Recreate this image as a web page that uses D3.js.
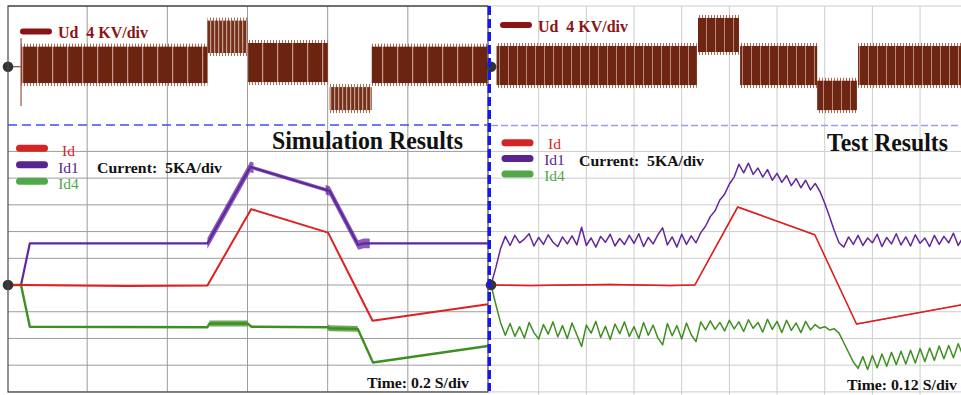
<!DOCTYPE html>
<html>
<head>
<meta charset="utf-8">
<script src="https://cdn.jsdelivr.net/npm/d3@7"></script>
<style>
  body { margin: 0; background: #fff; }
  svg { display: block; }
  text { font-family: "Liberation Serif", "Times New Roman", serif; white-space: pre; }
</style>
</head>
<body>
<div id="chart"></div>
<script>

// Ud switching envelope: [t0, t1, upper, lower]
const udSimBands = [
    [0.035, 0.5, 3.0, -2.45],
    [0.5, 0.6, 6.9, 2.05],
    [0.6, 0.8, 3.55, -2.3],
    [0.805, 0.91, -3.05, -6.5],
    [0.91, 1.2, 3.0, -2.45]
];
const udTestBands = [
    [0.014, 0.518, 3.1, -2.75],
    [0.521, 0.624, 7.3, 2.2],
    [0.627, 0.821, 3.1, -2.75],
    [0.821, 0.921, -2.1, -6.5],
    [0.924, 1.2, 3.1, -2.75]
];
const udSimSpike = [0.035, 4.3, -5.9];

// simulation currents, breakpoints [t, kA]
const idSim = [[0, 0], [0.035, 0], [0.3, -0.19], [0.5, -0.1], [0.609, 14.2], [0.801, 9.8], [0.912, -6.7], [1.2, -3.6]];
const id1Sim = [[0, 0], [0.035, 0], [0.057, 7.8], [0.5, 7.8], [0.607, 22.1], [0.805, 17.6], [0.876, 7.5], [0.89, 7.8], [1.2, 7.8]];
const id4Sim = [[0, 0], [0.035, 0], [0.057, -7.8], [0.5, -7.9], [0.505, -7.2], [0.6, -7.2], [0.61, -7.8], [0.8, -7.9],
    [0.805, -8.1], [0.875, -8.2], [0.913, -14.5], [1.2, -11.4]];
// ripple zones on the simulation traces: [t0, t1, half width kA]
const id1SimRipple = [[0.5, 0.615, 1.0], [0.615, 0.8, 0.35], [0.795, 0.905, 0.9]];
const id4SimRipple = [[0.505, 0.6, 0.55], [0.8, 0.875, 0.55]];

// test currents
const idTest = [[0, 0], [0.1, -0.1], [0.3, 0.1], [0.45, -0.1], [0.513, 0], [0.621, 14.6], [0.815, 9.4], [0.92, -7.3], [1.2, -3.5]];
const idTestRipple = [[0, 1.2, 0.12]];
const testStep = 0.012;
const id1Test = [0, 3.2, 6.8, 9.1, 7.4, 9.3, 7.9, 8.6, 9.6, 7.3, 8.9, 7.6, 9.4, 8.0, 7.2, 9.0, 7.7, 9.2, 7.5, 10.8,
    7.4, 8.8, 7.1, 9.1, 8.0, 9.5, 7.3, 8.7, 7.6, 9.3, 7.8, 9.6, 7.2, 8.9, 7.7, 9.4, 10.7, 7.5, 9.0, 7.1,
    9.5, 7.6, 9.2, 7.9, 9.8, 11.0, 12.8, 13.9, 15.9, 17.0, 18.9, 20.2, 22.6, 21.0, 22.8, 20.7, 21.9, 20.2, 21.6, 19.6,
    20.9, 19.2, 20.5, 18.6, 19.9, 18.2, 19.6, 17.8, 19.0, 17.5, 15.3, 12.8, 10.2, 7.9, 7.1, 9.0, 7.6, 9.3, 7.4, 8.8,
    7.9, 9.5, 7.2, 8.9, 7.7, 9.6, 7.5, 9.0, 7.3, 9.4, 7.8, 8.8, 7.2, 9.3, 7.6, 9.1, 7.9, 9.7, 7.4, 8.9];
const id4Test = [0, -3.6, -7.0, -9.4, -7.2, -9.6, -7.8, -9.9, -7.0, -8.9, -10.1, -7.4, -9.2, -6.9, -9.7, -7.6, -10.0, -7.1, -9.3, -11.5,
    -7.5, -9.0, -6.8, -9.8, -7.7, -10.2, -7.3, -9.1, -6.9, -9.6, -7.8, -10.0, -7.0, -9.4, -7.5, -9.9, -11.2, -7.2, -9.5, -7.6,
    -10.1, -7.1, -9.3, -10.6, -6.9, -8.4, -6.7, -8.3, -7.0, -8.6, -6.6, -8.2, -6.9, -8.7, -6.5, -8.1, -7.0, -8.8, -6.4, -8.3,
    -6.8, -8.9, -6.6, -8.5, -7.1, -8.9, -6.8, -8.4, -7.4, -8.1, -7.8, -8.4, -8.2, -9.0, -10.8, -12.6, -14.4, -15.6, -13.4, -15.8,
    -13.2, -15.5, -12.9, -15.2, -12.6, -14.9, -12.4, -14.8, -12.2, -14.6, -11.9, -14.3, -11.8, -14.1, -11.4, -13.8, -11.3, -13.6, -11.0, -13.2];

const gridTimesSim = [0.2, 0.4, 0.6, 0.8, 1.0];
const gridTimesTest = [0.12, 0.24, 0.36, 0.48, 0.6, 0.72, 0.84, 0.96, 1.08];
const currentDivs = [-15, -10, -5, 0, 5, 10, 15, 20, 25];

const W = 961, H = 395;
const colors = { ud: "#6a2410", udKey: "#8b1414", id: "#de2020", id1: "#62279e", id4: "#3f8f22",
    idKey: "#d42424", id1Key: "#58248f", id4Key: "#52a74a" };

const svg = d3.select("#chart").append("svg").attr("width", W).attr("height", H);
const defs = svg.append("defs");

function stripePattern(id, w, lineX, lineW, dark, light) {
    const p = defs.append("pattern").attr("id", id).attr("patternUnits", "userSpaceOnUse")
        .attr("width", w).attr("height", 400);
    p.append("rect").attr("width", w).attr("height", 400).attr("fill", dark);
    p.append("rect").attr("x", lineX).attr("width", lineW).attr("height", 400).attr("fill", light);
}
stripePattern("stripeSim", 15, 7, 1.2, "#6a2410", "#c8998a");
stripePattern("stripeDense", 4, 2, 1.2, "#74321c", "#c9a08e");
stripePattern("stripeTest", 9, 4, 1, "#6e2612", "#b9877a");
stripePattern("fringe", 3, 0, 1, "rgba(0,0,0,0)", "#a86a52");

const yU = d3.scaleLinear().domain([0, 4]).range([66.7, 66.7 - 26.72]);
const yI = d3.scaleLinear().domain([-20, 30]).range([391.9, 124.7]);

function valueAt(trace, t) {
    for (let i = 1; i < trace.length; i++) {
        const [ta, va] = trace[i - 1], [tb, vb] = trace[i];
        if (t <= tb) return va + (vb - va) * (t - ta) / (tb - ta);
    }
    return trace[trace.length - 1][1];
}

function drawPanel(p) {
    const x = p.x;
    const g = svg.append("g");
    defs.append("clipPath").attr("id", p.id + "Clip").append("rect")
        .attr("x", p.left).attr("y", 0).attr("width", p.right - p.left).attr("height", H);

    // grid
    const grid = g.append("g").attr("stroke", p.gridColor).attr("stroke-width", 1);
    grid.selectAll("line.v").data(p.gridTimes).enter().append("line")
        .attr("x1", d => x(d)).attr("x2", d => x(d)).attr("y1", 6).attr("y2", p.gridBottom);
    grid.selectAll("line.h").data(currentDivs).enter().append("line")
        .attr("x1", p.left).attr("x2", p.right).attr("y1", d => yI(d)).attr("y2", d => yI(d));
    grid.append("line").attr("x1", p.left).attr("x2", p.right).attr("y1", yI(-20)).attr("y2", yI(-20));
    grid.append("line").attr("x1", p.left).attr("x2", p.right).attr("y1", 6).attr("y2", 6)
        .attr("stroke", p.frameColor);

    const plot = g.append("g").attr("clip-path", `url(#${p.id}Clip)`);

    // Ud
    plot.append("line").attr("x1", x(0)).attr("x2", x(p.bands[0][0]))
        .attr("y1", yU(0)).attr("y2", yU(0)).attr("stroke", "#8a4a30").attr("stroke-width", 1.2);
    p.bands.forEach(b => {
        const x0 = x(b[0]), x1 = x(b[1]);
        plot.append("rect").attr("x", x0).attr("width", x1 - x0)
            .attr("y", yU(b[2]) - 3).attr("height", yU(b[3]) - yU(b[2]) + 6).attr("fill", "url(#fringe)");
        const dense = p.id === "sim" && (b[2] > 5 || b[3] < -5);
        plot.append("rect").attr("x", x0).attr("width", x1 - x0)
            .attr("y", yU(b[2])).attr("height", yU(b[3]) - yU(b[2]))
            .attr("fill", dense ? "url(#stripeDense)" : `url(#${p.stripe})`);
    });
    if (p.spike) {
        plot.append("line").attr("x1", x(p.spike[0])).attr("x2", x(p.spike[0]))
            .attr("y1", yU(p.spike[1])).attr("y2", yU(p.spike[2])).attr("stroke", "#9a5a40").attr("stroke-width", 1.2);
    }

    // currents
    const line = d3.line().x(d => x(d[0])).y(d => yI(d[1]));
    p.traces.forEach(tr => {
        (tr.ripple || []).forEach(r => {
            const pts = [[r[0], valueAt(tr.data, r[0])]]
                .concat(tr.data.filter(d => d[0] > r[0] && d[0] < r[1]))
                .concat([[r[1], valueAt(tr.data, r[1])]]);
            plot.append("path").datum(pts)
                .attr("d", d3.area().x(d => x(d[0])).y0(d => yI(d[1] - r[2])).y1(d => yI(d[1] + r[2])))
                .attr("fill", tr.color).attr("opacity", 0.75);
        });
        plot.append("path").datum(tr.data).attr("d", line)
            .attr("fill", "none").attr("stroke", tr.color).attr("stroke-width", tr.width)
            .attr("stroke-linejoin", "round");
    });

    // zero markers
    g.selectAll("circle").data([yU(0), yI(0)]).enter().append("circle")
        .attr("cx", p.marker).attr("cy", d => d).attr("r", 5.3).attr("fill", "#333");

    // legend
    g.append("line").attr("x1", p.udKey[0]).attr("x2", p.udKey[0] + 26).attr("y1", p.udKey[1]).attr("y2", p.udKey[1])
        .attr("stroke", colors.udKey).attr("stroke-width", 6).attr("stroke-linecap", "round");
    g.append("text").attr("x", p.udKey[0] + 35).attr("y", p.udKey[1] + 6.5)
        .attr("font-size", 16).attr("font-weight", "bold").attr("fill", colors.udKey)
        .attr("textLength", 90).attr("lengthAdjust", "spacingAndGlyphs").text("Ud  4 KV/div");

    const keys = [["Id", colors.idKey], ["Id1", colors.id1Key], ["Id4", colors.id4Key]];
    keys.forEach((k, i) => {
        g.append("line").attr("x1", p.iKey[0]).attr("x2", p.iKey[0] + 25)
            .attr("y1", p.iKey[1] + i * p.iKey[2]).attr("y2", p.iKey[1] + i * p.iKey[2])
            .attr("stroke", k[1]).attr("stroke-width", 7).attr("stroke-linecap", "round");
        g.append("text").attr("x", p.iKey[3]).attr("y", p.iKey[4] + i * p.iKey[2])
            .attr("text-anchor", "middle").attr("font-size", 15.5).attr("fill", k[1]).text(k[0]);
    });

    g.append("text").attr("x", p.current[0]).attr("y", p.current[1])
        .attr("font-size", 15).attr("font-weight", "bold").attr("fill", "#111")
        .attr("textLength", 125).attr("lengthAdjust", "spacingAndGlyphs").text("Current:  5KA/div");
    g.append("text").attr("x", p.title[0]).attr("y", p.title[1])
        .attr("font-size", 25).attr("font-weight", "bold").attr("fill", "#111")
        .attr("textLength", p.title[2]).attr("lengthAdjust", "spacingAndGlyphs").text(p.title[3]);
    g.append("text").attr("x", p.time[0]).attr("y", p.time[1])
        .attr("font-size", 14.5).attr("font-weight", "bold").attr("fill", "#111")
        .attr("textLength", p.time[2]).attr("lengthAdjust", "spacingAndGlyphs").text(p.time[3]);
    return g;
}

const toPairs = arr => arr.map((v, i) => [i * testStep, v]);

drawPanel({
    id: "sim", x: d3.scaleLinear().domain([0, 1.2]).range([7, 488]),
    left: 8, right: 488, gridBottom: 392, gridTimes: gridTimesSim,
    gridColor: "#9c9c9c", frameColor: "#555", stripe: "stripeSim",
    bands: udSimBands, spike: udSimSpike, marker: 8,
    traces: [
        { data: id1Sim, color: colors.id1, width: 2.2, ripple: id1SimRipple },
        { data: id4Sim, color: colors.id4, width: 2.4, ripple: id4SimRipple },
        { data: idSim, color: colors.id, width: 2 }
    ],
    udKey: [23, 31.5], iKey: [19.5, 148.3, 16.5, 68.5, 156], current: [97, 172.5],
    title: [272, 148.5, 191, "Simulation Results"], time: [367, 387.5, 102, "Time: 0.2 S/div"]
});

drawPanel({
    id: "test", x: d3.scaleLinear().domain([0, 1.2]).range([491, 967.75]),
    left: 489, right: 961, gridBottom: 395, gridTimes: gridTimesTest,
    gridColor: "#cdcdcd", frameColor: "#cdcdcd", stripe: "stripeTest",
    bands: udTestBands, marker: 491,
    traces: [
        { data: toPairs(id1Test), color: colors.id1, width: 1.5 },
        { data: toPairs(id4Test), color: colors.id4, width: 1.5 },
        { data: idTest, color: colors.id, width: 1.6, ripple: idTestRipple }
    ],
    udKey: [503, 25], iKey: [505, 142.7, 15.7, 554.5, 149.3], current: [579, 166],
    title: [827, 151, 121, "Test Results"], time: [847, 390, 110, "Time: 0.12 S/div"]
});

// frame of simulation panel and divider lines
svg.append("rect").attr("x", 8).attr("y", 6).attr("width", 480).attr("height", 386)
    .attr("fill", "none").attr("stroke", "#4a4a4a").attr("stroke-width", 1.2);
svg.append("line").attr("x1", 8).attr("x2", 487).attr("y1", 125).attr("y2", 125)
    .attr("stroke", "#3d4ff0").attr("stroke-width", 1.6).attr("stroke-dasharray", "9,5");
svg.append("line").attr("x1", 491).attr("x2", W).attr("y1", 125.5).attr("y2", 125.5)
    .attr("stroke", "#9a9af5").attr("stroke-width", 1.3).attr("stroke-dasharray", "7,3");
svg.append("line").attr("x1", 489.3).attr("x2", 489.3).attr("y1", 6).attr("y2", 391)
    .attr("stroke", "#1616f0").attr("stroke-width", 3.4).attr("stroke-dasharray", "9,4");
</script>
</body>
</html>
